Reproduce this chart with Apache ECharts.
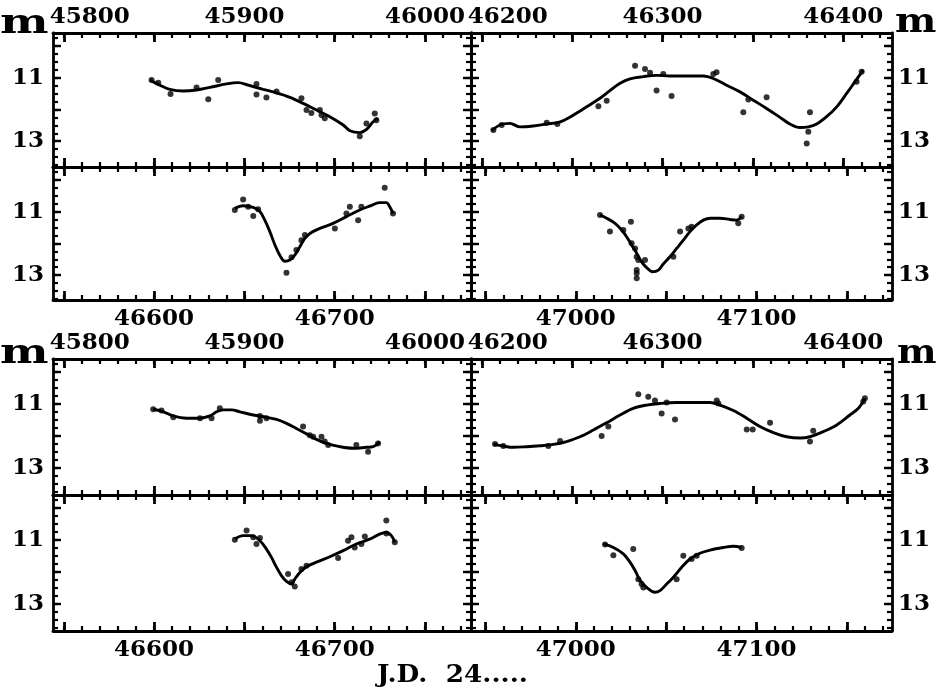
<!DOCTYPE html>
<html><head><meta charset="utf-8">
<script src="https://cdn.jsdelivr.net/npm/echarts@6/dist/echarts.min.js"></script>
<style>html,body{margin:0;padding:0;background:#fff}#c{width:940px;height:694px}</style>
</head><body><div id="c"></div>
<script>
// ---- axis ranges (J.D. 24.....) and tick labels ----
const xRangeA = [45794, 46025.5];
const xRangeB = [46194, 46427];
const xRangeC = [46544, 46775.5];
const xRangeD = [46942, 47175];
const labelsA = [45800, 45900, 46000];
const labelsB = [46200, 46300, 46400];
const labelsC = [46600, 46700];
const labelsD = [47000, 47100];
const magLabels = [11, 13];

// ---- Block 1 ----
const b1TLCurve = [[45847.7,11.08],[45853.2,11.24],[45858.7,11.37],[45866.1,11.42],[45873.5,11.39],[45880.9,11.31],[45890.1,11.20],[45896.6,11.16],[45902.1,11.24],[45910.4,11.37],[45917.8,11.48],[45925.2,11.62],[45932.5,11.81],[45939.9,12.02],[45947.3,12.23],[45954.7,12.49],[45958.4,12.67],[45963.9,12.73],[45967.6,12.63],[45971.3,12.39],[45974.0,12.28]];
const b1TLPts = [[45848.6,11.08],[45852.3,11.16],[45859.1,11.52],[45873.5,11.31],[45880.0,11.68],[45885.5,11.08],[45906.7,11.20],[45906.7,11.53],[45912.2,11.63],[45917.8,11.44],[45931.6,11.65],[45934.4,12.02],[45937.1,12.11],[45941.8,12.02],[45942.7,12.18],[45944.5,12.28],[45963.9,12.84],[45967.6,12.44],[45972.2,12.13],[45973.1,12.34]];

const b1TRCurve = [[46205.4,12.67],[46210.0,12.49],[46215.6,12.44],[46221.1,12.55],[46228.5,12.52],[46235.9,12.46],[46243.3,12.39],[46250.6,12.18],[46258.0,11.92],[46265.4,11.65],[46270.9,11.41],[46276.5,11.18],[46282.0,11.04],[46289.4,10.97],[46296.7,10.93],[46304.1,10.95],[46313.3,10.95],[46322.6,10.95],[46328.1,11.03],[46335.5,11.24],[46342.9,11.45],[46350.2,11.71],[46357.6,11.97],[46365.0,12.25],[46370.5,12.46],[46376.1,12.57],[46380.7,12.55],[46385.3,12.46],[46390.8,12.23],[46396.4,11.92],[46401.9,11.50],[46406.5,11.13],[46411.1,10.76]];
const b1TRPts = [[46206.4,12.65],[46211.0,12.49],[46235.9,12.42],[46241.8,12.46],[46264.5,11.90],[46269.1,11.73],[46284.8,10.63],[46290.3,10.73],[46293.1,10.85],[46296.7,11.41],[46300.4,10.89],[46305.0,11.58],[46328.1,10.89],[46329.9,10.83],[46344.7,12.09],[46347.5,11.69],[46357.6,11.62],[46380.7,12.70],[46381.6,12.09],[46379.8,13.07],[46407.4,11.13],[46410.2,10.82]];

const b1BLCurve = [[46644.7,10.90],[46649.3,10.82],[46654.9,10.87],[46658.6,11.00],[46661.3,11.27],[46664.1,11.63],[46666.9,12.05],[46669.6,12.37],[46672.4,12.56],[46675.2,12.52],[46677.9,12.37],[46680.7,12.11],[46683.5,11.84],[46687.1,11.66],[46691.8,11.53],[46699.1,11.37],[46706.5,11.16],[46713.9,10.95],[46719.4,10.83],[46724.9,10.72],[46728.6,10.72],[46730.5,10.85],[46732.3,11.06]];
const b1BLPts = [[46644.7,10.95],[46649.3,10.62],[46652.1,10.85],[46654.9,11.14],[46657.6,10.93],[46673.3,12.92],[46676.1,12.44],[46678.8,12.21],[46681.6,11.90],[46683.5,11.74],[46700.1,11.53],[46706.5,11.06],[46708.4,10.85],[46713.0,11.27],[46714.8,10.85],[46727.7,10.25],[46732.3,11.06]];

const b1BRCurve = [[47013.4,11.11],[47017.1,11.21],[47021.7,11.37],[47025.4,11.58],[47028.1,11.79],[47030.9,12.05],[47033.7,12.31],[47036.4,12.58],[47039.2,12.76],[47042.5,12.89],[47045.7,12.84],[47048.4,12.65],[47052.1,12.42],[47055.8,12.16],[47059.5,11.90],[47063.2,11.63],[47066.9,11.42],[47070.6,11.27],[47074.3,11.21],[47079.8,11.21],[47085.3,11.25],[47089.0,11.27],[47091.8,11.16]];
const b1BRPts = [[47013.4,11.11],[47018.9,11.63],[47026.3,11.58],[47030.5,11.32],[47030.9,12.00],[47032.8,12.16],[47033.7,12.42],[47034.6,12.52],[47038.3,12.52],[47033.7,12.84],[47033.7,12.94],[47033.7,13.10],[47054.0,12.42],[47057.7,11.63],[47062.3,11.53],[47064.1,11.48],[47089.9,11.37],[47091.8,11.16]];

// ---- Block 2 ----
const b2TLCurve = [[45849.5,11.17],[45855.1,11.25],[45860.6,11.38],[45868.0,11.45],[45875.4,11.45],[45880.9,11.38],[45884.6,11.25],[45888.3,11.19],[45892.9,11.19],[45897.5,11.25],[45904.9,11.35],[45912.2,11.42],[45917.8,11.49],[45923.3,11.61],[45928.8,11.77],[45934.4,11.94],[45939.9,12.11],[45945.4,12.24],[45952.8,12.34],[45960.2,12.39],[45967.6,12.36],[45971.3,12.34],[45975.0,12.18]];
const b2TLPts = [[45849.5,11.17],[45854.1,11.21],[45860.6,11.42],[45875.4,11.45],[45881.8,11.45],[45886.4,11.14],[45908.6,11.38],[45908.6,11.53],[45912.2,11.45],[45932.5,11.71],[45936.2,11.98],[45938.1,12.03],[45942.7,12.03],[45944.5,12.18],[45946.4,12.29],[45962.0,12.29],[45968.5,12.50],[45974.0,12.24]];

const b2TRCurve = [[46206.4,12.26],[46211.9,12.32],[46217.4,12.36],[46224.8,12.34],[46232.2,12.31],[46239.6,12.27],[46246.9,12.18],[46254.3,12.03],[46261.7,11.82],[46269.1,11.59],[46276.5,11.35],[46283.8,11.14],[46291.2,11.04],[46298.6,10.99],[46307.8,10.96],[46317.0,10.96],[46326.3,10.96],[46331.8,11.04],[46339.2,11.21],[46346.6,11.45],[46353.9,11.71],[46361.3,11.90],[46368.7,12.03],[46376.1,12.07],[46381.6,12.03],[46389.0,11.87],[46396.4,11.66],[46403.7,11.35],[46408.4,11.14],[46412.0,10.83]];
const b2TRPts = [[46207.3,12.26],[46211.9,12.32],[46236.8,12.32],[46243.3,12.16],[46266.3,12.01],[46270.0,11.71],[46286.6,10.70],[46292.1,10.78],[46295.8,10.90],[46299.5,11.30],[46302.3,10.96],[46306.9,11.49],[46330.0,10.90],[46330.9,10.99],[46346.6,11.80],[46349.9,11.80],[46359.5,11.59],[46381.6,12.18],[46383.4,11.84],[46411.1,10.93],[46412.0,10.83]];

const b2BLCurve = [[46644.7,10.98],[46649.3,10.87],[46653.9,10.87],[46658.6,11.03],[46662.2,11.29],[46665.0,11.55],[46667.8,11.86],[46670.5,12.12],[46673.3,12.30],[46676.1,12.38],[46677.9,12.23],[46680.7,12.02],[46684.4,11.84],[46689.9,11.70],[46697.3,11.53],[46704.7,11.34],[46712.0,11.13],[46719.4,10.98],[46724.9,10.82],[46728.6,10.77],[46731.4,10.87],[46733.3,11.08]];
const b2BLPts = [[46644.7,11.00],[46651.2,10.71],[46654.9,10.92],[46656.7,11.13],[46658.6,10.94],[46674.2,12.07],[46676.1,12.33],[46677.9,12.46],[46681.6,11.91],[46684.4,11.81],[46701.9,11.57],[46707.4,11.03],[46709.3,10.92],[46711.1,11.24],[46714.8,11.13],[46716.7,10.90],[46728.6,10.40],[46728.6,10.80],[46733.3,11.08]];

const b2BRCurve = [[47015.2,11.13],[47020.8,11.24],[47026.3,11.44],[47030.0,11.70],[47032.8,11.96],[47035.5,12.26],[47039.2,12.49],[47043.8,12.64],[47046.6,12.59],[47050.3,12.38],[47054.0,12.17],[47058.6,11.86],[47063.2,11.60],[47068.7,11.42],[47074.3,11.32],[47081.6,11.24],[47087.2,11.20],[47091.8,11.24]];
const b2BRPts = [[47016.2,11.15],[47020.8,11.48],[47031.8,11.29],[47034.6,12.23],[47036.4,12.38],[47037.4,12.49],[47055.8,12.23],[47059.5,11.50],[47064.1,11.60],[47066.9,11.50],[47091.8,11.26]];

// ---- layout ----
const FONT = 'DejaVu Serif';
const panels = [
  {left:53, top:33, width:418, height:134, x:xRangeA, y:[9.6,13.81], top_:labelsA, side:'left', curve:b1TLCurve, pts:b1TLPts},
  {left:471, top:33, width:421, height:134, x:xRangeB, y:[9.6,13.81], top_:labelsB, side:'right', curve:b1TRCurve, pts:b1TRPts},
  {left:53, top:167, width:418, height:133, x:xRangeC, y:[9.6,13.78], bot:labelsC, botMargin:8, side:'left', curve:b1BLCurve, pts:b1BLPts},
  {left:471, top:167, width:421, height:133, x:xRangeD, y:[9.6,13.78], bot:labelsD, botMargin:8, side:'right', curve:b1BRCurve, pts:b1BRPts},
  {left:53, top:359, width:418, height:136, x:xRangeA, y:[9.6,13.85], top_:labelsA, side:'left', curve:b2TLCurve, pts:b2TLPts},
  {left:471, top:359, width:421, height:136, x:xRangeB, y:[9.6,13.85], top_:labelsB, side:'right', curve:b2TRCurve, pts:b2TRPts},
  {left:53, top:495, width:418, height:136, x:xRangeC, y:[9.6,13.85], bot:labelsC, botMargin:8, side:'left', curve:b2BLCurve, pts:b2BLPts},
  {left:471, top:495, width:421, height:136, x:xRangeD, y:[9.6,13.85], bot:labelsD, botMargin:8, side:'right', curve:b2BRCurve, pts:b2BRPts}
];

function ticks(a, b, step) {
  const r = [];
  const s = Math.ceil(a / step - 1e-9);
  for (let k = s; k * step <= b + 1e-9; k++) r.push(Math.round(k * step * 1000) / 1000);
  return r;
}
const labelStyle = {fontFamily: FONT, fontWeight: 'bold', fontSize: 23, color: '#000'};
const grids = [], xAxes = [], yAxes = [], series = [];
panels.forEach((p, i) => {
  grids.push({left: p.left, top: p.top, width: p.width, height: p.height, containLabel: false, outerBoundsMode: 'none'});
  const xb = {gridIndex: i, type: 'value', min: p.x[0], max: p.x[1], splitLine: {show: false}};
  ['bottom', 'top'].forEach(pos => {
    const labs = pos === 'bottom' ? p.bot : p.top_;
    const first = labs ? labs[0] : null;
    xAxes.push(Object.assign({}, xb, {
      position: pos,
      axisLine: {show: true, onZero: false, lineStyle: {color: '#000', width: 2.8}},
      axisTick: {show: true, inside: true, length: 5, lineStyle: {color: '#000', width: 2.2}, customValues: ticks(p.x[0], p.x[1], 10)},
      axisLabel: labs ? Object.assign({show: true, margin: pos === 'top' ? 4 : p.botMargin, customValues: labs,
        formatter: v => (pos === 'top' && v === first) ? '{s|' + v + '}' : String(v),
        rich: {s: Object.assign({padding: [0, 0, 0, 52]}, labelStyle)}}, labelStyle) : {show: false}
    }));
    xAxes.push(Object.assign({}, xb, {
      position: pos,
      axisLine: {show: false, onZero: false},
      axisTick: {show: true, inside: true, length: 9, lineStyle: {color: '#000', width: 2.8}, customValues: ticks(p.x[0], p.x[1], 50)},
      axisLabel: {show: false}
    }));
  });
  const yb = {gridIndex: i, type: 'value', inverse: true, min: p.y[0], max: p.y[1], splitLine: {show: false}};
  ['left', 'right'].forEach(pos => {
    const withLab = pos === p.side;
    yAxes.push(Object.assign({}, yb, {
      position: pos,
      axisLine: {show: true, onZero: false, lineStyle: {color: '#000', width: 2.8}},
      axisTick: {show: true, inside: true, length: 5, lineStyle: {color: '#000', width: 2.2}, customValues: ticks(p.y[0], p.y[1], 0.25)},
      axisLabel: withLab ? Object.assign({show: true, margin: pos === 'left' ? 9 : 6, customValues: magLabels}, labelStyle) : {show: false}
    }));
    yAxes.push(Object.assign({}, yb, {
      position: pos,
      axisLine: {show: false, onZero: false},
      axisTick: {show: true, inside: true, length: 8, lineStyle: {color: '#000', width: 2.4}, customValues: ticks(p.y[0], p.y[1], 1)},
      axisLabel: {show: false}
    }));
  });
  series.push({type: 'line', xAxisIndex: i * 4, yAxisIndex: i * 4, data: p.curve, smooth: 0.35, showSymbol: false, silent: true,
    lineStyle: {color: '#000', width: 2.9}});
  series.push({type: 'scatter', xAxisIndex: i * 4, yAxisIndex: i * 4, data: p.pts, symbolSize: 6, silent: true,
    itemStyle: {color: '#000'}});
});

const txt = (t, x, y, size, sx) => ({type: 'text', x: x, y: y, scaleX: sx || 1, silent: true,
  style: {text: t, fontFamily: FONT, fontWeight: 'bold', fontSize: size, fill: '#000', verticalAlign: 'top'}});

const chart = echarts.init(document.getElementById('c'), null, {renderer: 'canvas'});
chart.setOption({
  animation: false,
  backgroundColor: '#fff',
  grid: grids, xAxis: xAxes, yAxis: yAxes, series: series,
  graphic: [
    txt('m', 0, 7, 34, 1.35),
    txt('m', 895, 6, 34, 1.15),
    txt('m', 0, 337, 34, 1.35),
    txt('m', 897, 337, 34, 1.1),
    txt('J.D.  24.....', 377, 663, 25, 1.05)
  ]
});
</script></body></html>
